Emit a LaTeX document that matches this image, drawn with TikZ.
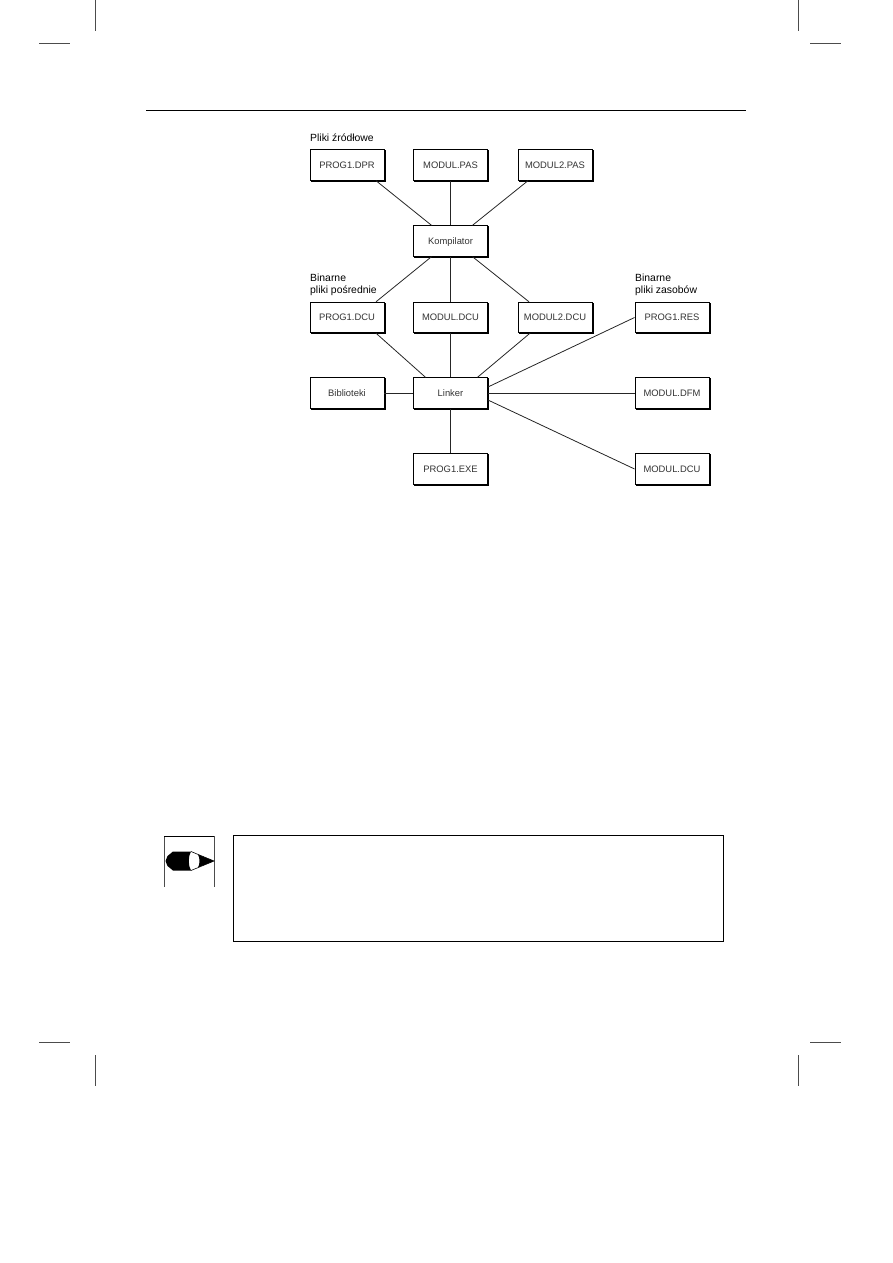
\documentclass[tikz,border=0pt]{standalone}
\usepackage{fontspec}
\setmainfont{Liberation Sans}
\usetikzlibrary{positioning, shadows}
\tikzset{
	x=1pt, y=-1pt,
	filebox/.style={draw, line width=0.9pt, fill=white, minimum width=74pt, minimum height=30.5pt, inner sep=0pt, font=\fontsize{9.4}{11}\selectfont, text=black!80, text depth=-1.2pt, copy shadow={shadow xshift=1pt, shadow yshift=-1pt, fill=black, draw=black}}, % boxes with a heavier lower right edge
	groupname/.style={anchor=north west, inner sep=0pt, align=left, font=\fontsize{10.4}{12.2}\selectfont},
	link/.style={line width=0.8pt, black!85},
	cropline/.style={line width=0.8pt, black!70},
}
\begin{document}
\begin{tikzpicture}
	\useasboundingbox (0,0) rectangle (893,1263);
	% page furniture
	\coordinate (ruleL) at (146,110);
	\coordinate (ruleR) at (746,110);
	\draw[line width=1pt] (ruleL) -- (ruleR);
	\foreach \xa/\xb/\ya in {39/70/43, 810/841/43, 39/70/1042, 810/841/1042}
		\draw[cropline] (\xa,\ya) -- (\xb,\ya);
	\foreach \xa/\ya/\yb in {95/0/31, 798/0/31, 95/1055/1086, 798/1055/1086}
		\draw[cropline] (\xa,\ya) -- (\xa,\yb);

	% source files
	\node[filebox] (dpr) at (347,165) {PROG1.DPR};
	\node[filebox] (pas) at (450.5,165) {MODUL.PAS};
	\node[filebox] (pastwo) at (555,165) {MODUL2.PAS};
	\node[filebox] (kompilator) at (450.5,241) {Kompilator};
	% intermediate files
	\node[filebox] (dcu) at (347,317.5) {PROG1.DCU};
	\node[filebox] (moduldcu) at (450.5,317.5) {MODUL.DCU};
	\node[filebox] (dcutwo) at (555,317.5) {MODUL2.DCU};
	\node[filebox] (res) at (672,317.5) {PROG1.RES};
	\node[filebox] (biblioteki) at (347,393) {Biblioteki};
	\node[filebox] (linker) at (450.5,393) {Linker};
	\node[filebox] (dfm) at (672,393) {MODUL.DFM};
	\node[filebox] (exe) at (450.5,469) {PROG1.EXE};
	\node[filebox] (resdcu) at (672,469) {MODUL.DCU};

	\node[groupname] (zrodla) at (310,133.5) {Pliki źródłowe};
	\node[groupname] (posrednie) at (310,274) {Binarne\\pliki pośrednie};
	\node[groupname] (zasoby) at (635,274) {Binarne\\pliki zasobów};

	\draw[link] ([xshift=29pt]dpr.south) -- ([xshift=-19pt]kompilator.north);
	\draw[link] (pas) -- (kompilator);
	\draw[link] ([xshift=-27pt]pastwo.south) -- ([xshift=22pt]kompilator.north);
	\draw[link] ([xshift=-19pt]kompilator.south) -- ([xshift=29pt]dcu.north);
	\draw[link] (kompilator) -- (moduldcu);
	\draw[link] ([xshift=22pt]kompilator.south) -- ([xshift=-26pt]dcutwo.north);
	\draw[link] ([xshift=29pt]dcu.south) -- ([xshift=-25pt]linker.north);
	\draw[link] (moduldcu) -- (linker);
	\draw[link] ([xshift=-25pt]dcutwo.south) -- ([xshift=27pt]linker.north);
	\draw[link] (biblioteki) -- (linker);
	\draw[link] (linker) -- (exe);
	\draw[link] ([yshift=6pt]linker.east) -- (res.west);
	\draw[link] (linker) -- (dfm);
	\draw[link] ([yshift=-7pt]linker.east) -- (resdcu.west);

	% note frame with the pencil sign
	\node[draw, line width=0.8pt, minimum width=490pt, minimum height=106pt, inner sep=0pt, copy shadow={shadow xshift=0.5pt, shadow yshift=-0.5pt, fill=black, draw=black, line width=0.8pt}, fill=white] (note) at (478,888) {};
	\coordinate (signTL) at (164,836);
	\coordinate (signTR) at (214,836);
	\coordinate (signBL) at (164,886.5);
	\coordinate (signBR) at (214,886.5);
	\draw[line width=0.8pt, black!70] (signBL) -- (signTL);
	\draw[line width=0.8pt, black!70] (signBR) -- (signTR);
	\draw[line width=0.8pt] (signTL) -- (signTR);
	\fill (173,851.5) -- (191,851.5) .. controls (188,856) and (188,866) .. (191,870.5) -- (173,870.5) -- (167.5,866) -- (165.5,861) -- (167.5,856) -- cycle;
	\draw[line width=0.6pt] (191,851.5) -- (214,861) -- (191,870.5);
	\fill (198,854.5) .. controls (200,858) and (200,864) .. (198,867.5) -- (214,861) -- cycle;
\end{tikzpicture}
\end{document}
